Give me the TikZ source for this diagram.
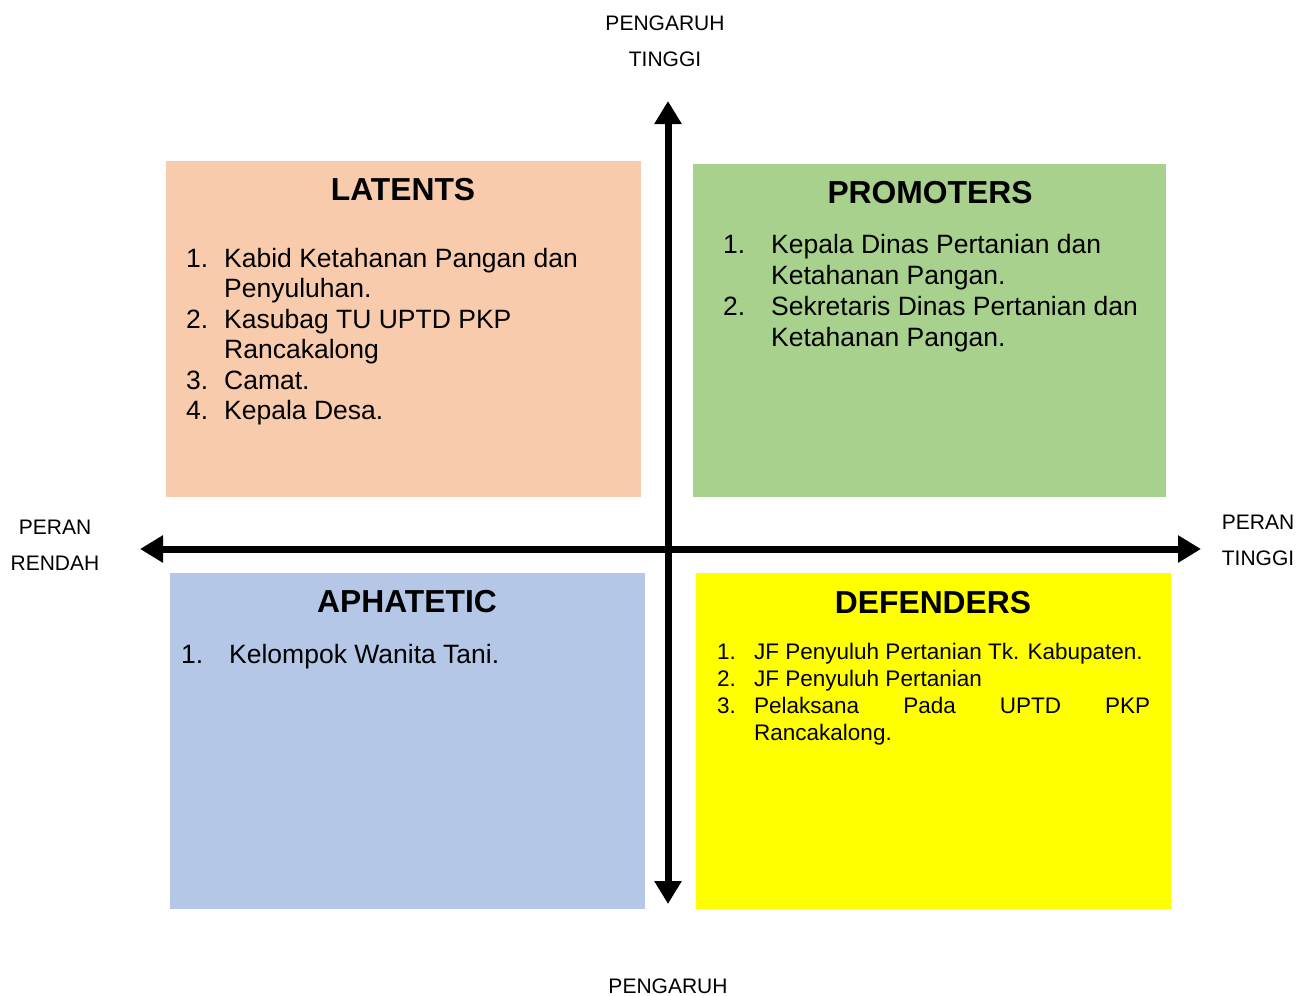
\documentclass[tikz,border=0pt]{standalone}
\usepackage{fontspec}
\setmainfont{Liberation Sans}
\usetikzlibrary{arrows.meta}
\definecolor{peach}{HTML}{F8CBAD}
\definecolor{leaf}{HTML}{A9D18E}
\definecolor{sky}{HTML}{B4C7E7}
\definecolor{lemon}{HTML}{FFFF00}
\tikzset{
  axlabel/.style={inner sep=0pt, anchor=base, font=\fontsize{21}{24}\selectfont},
  qtitle/.style={inner sep=0pt, anchor=base, font=\fontsize{31.8}{36}\selectfont\bfseries},
  bigitem/.style={inner sep=0pt, anchor=base west, font=\fontsize{26.5}{30}\selectfont},
  smallitem/.style={inner sep=0pt, anchor=base west, font=\fontsize{22.5}{26}\selectfont},
  axis/.style={line width=7pt, {Triangle[length=23pt,width=26pt]}-{Triangle[length=23pt,width=26pt]}}
}
\begin{document}
\begin{tikzpicture}[x=1pt,y=-1pt]
\useasboundingbox (0,0) rectangle (1310,996);
% quadrants
\fill[peach] (166,161) rectangle (641,497);
\fill[leaf] (693,164) rectangle (1166,497);
\fill[sky] (170,573) rectangle (645,909);
\fill[lemon] (696,573) rectangle (1171,909);
% axes
\coordinate (L) at (140,549);
\coordinate (R) at (1201,549);
\coordinate (T) at (668,101);
\coordinate (B) at (668,904);
\draw[axis] (L) -- (R);
\draw[axis] (B) -- (T);
% axis labels
\node[axlabel] (t1) at (665,30) {PENGARUH};
\node[axlabel] (t2) at (665,66) {TINGGI};
\node[axlabel] (b1) at (668,993) {PENGARUH};
\node[axlabel] (l1) at (55,534) {PERAN};
\node[axlabel] (l2) at (55,570) {RENDAH};
\node[axlabel] (r1) at (1258,529) {PERAN};
\node[axlabel] (r2) at (1258,565) {TINGGI};
% titles
\node[qtitle] (latT) at (403,200) {LATENTS};
\node[qtitle] (proT) at (930,203) {PROMOTERS};
\node[qtitle] (aphT) at (407,612) {APHATETIC};
\node[qtitle] (defT) at (933,613) {DEFENDERS};
% latents list
\node[bigitem] (lan1) at (186,267) {1.};
\node[bigitem] (la1) at (224,267) {Kabid Ketahanan Pangan dan};
\node[bigitem] (la1b) at (224,297) {Penyuluhan.};
\node[bigitem] (lan2) at (186,328) {2.};
\node[bigitem] (la2) at (224,328) {Kasubag TU UPTD PKP};
\node[bigitem] (la2b) at (224,358) {Rancakalong};
\node[bigitem] (lan3) at (186,389) {3.};
\node[bigitem] (la3) at (224,389) {Camat.};
\node[bigitem] (lan4) at (186,419) {4.};
\node[bigitem] (la4) at (224,419) {Kepala Desa.};
% promoters list
\node[bigitem] (prn1) at (723,253) {1.};
\node[bigitem] (pr1) at (771,253) {Kepala Dinas Pertanian dan};
\node[bigitem] (pr1b) at (771,284) {Ketahanan Pangan.};
\node[bigitem] (prn2) at (723,315) {2.};
\node[bigitem] (pr2) at (771,315) {Sekretaris Dinas Pertanian dan};
\node[bigitem] (pr2b) at (771,346) {Ketahanan Pangan.};
% aphatetic list
\node[bigitem] (apn1) at (181,663) {1.};
\node[bigitem] (ap1) at (229,663) {Kelompok Wanita Tani.};
% defenders list
\node[smallitem] (den1) at (717,659) {1.};
\node[smallitem] (de1) at (754,659) {JF Penyuluh Pertanian Tk. Kabupaten.};
\node[smallitem] (den2) at (717,686) {2.};
\node[smallitem] (de2) at (754,686) {JF Penyuluh Pertanian};
\node[smallitem] (den3) at (717,713) {3.};
\node[smallitem] (de3) at (754,713) {\makebox[396pt][s]{Pelaksana Pada UPTD PKP}};
\node[smallitem] (de3b) at (754,740) {Rancakalong.};
\end{tikzpicture}
\end{document}
